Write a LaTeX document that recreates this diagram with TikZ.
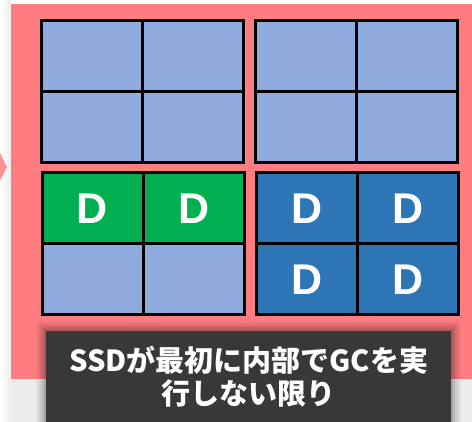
\documentclass[tikz,border=0pt]{standalone}
\usepackage{fontspec}
\setmainfont{Liberation Sans}
\newfontfamily\cjk{Noto Sans CJK JP}
\usetikzlibrary{calc}
\definecolor{pinkbg}{HTML}{FF7C80}
\definecolor{lightblk}{HTML}{8FAADC}
\definecolor{greenblk}{HTML}{00B050}
\definecolor{blueblk}{HTML}{2E75B6}
\definecolor{darkbox}{HTML}{3A3836}
\definecolor{pagebg}{HTML}{ECECEC}
\tikzset{
  cell/.style={draw=black, line width=3pt, minimum width=101pt, minimum height=71pt, inner sep=0pt,
    font=\fontsize{43}{43}\selectfont\bfseries, text=white},
  freecell/.style={cell, fill=lightblk},
  greencell/.style={cell, fill=greenblk},
  bluecell/.style={cell, fill=blueblk},
}
\begin{document}
\begin{tikzpicture}[x=1pt, y=-1pt]
\useasboundingbox (0,0) rectangle (472,422);
% page background
\fill[white] (0,0) rectangle (472,422);
\shade[left color=white, right color=pagebg] (0,0) rectangle (11,422);
\fill[pagebg] (11,379) rectangle (472,422);
% chevron fragment
\fill[pinkbg!85!white] (0,153) -- (7,167) -- (0,181) -- cycle;
% pink panel
\fill[pinkbg] (11,4) rectangle (472,379);
% top-left block
\node[freecell] (a11) at (91.5,56) {};
\node[freecell] (a12) at (192.5,56) {};
\node[freecell] (a21) at (91.5,127) {};
\node[freecell] (a22) at (192.5,127) {};
% top-right block
\node[freecell] (b11) at (306,56) {};
\node[freecell] (b12) at (407,56) {};
\node[freecell] (b21) at (306,127) {};
\node[freecell] (b22) at (407,127) {};
% bottom-left block
\node[greencell] (c11) at (92.5,208.5) {D};
\node[greencell] (c12) at (194,208.5) {D};
\node[freecell] (c21) at (92.5,279.5) {};
\node[freecell] (c22) at (194,279.5) {};
% bottom-right block
\node[bluecell] (d11) at (307,208.5) {D};
\node[bluecell] (d12) at (408,208.5) {D};
\node[bluecell] (d21) at (307,279.5) {D};
\node[bluecell] (d22) at (408,279.5) {D};
% shadow of caption box
\foreach \s/\o in {10/0.04,8/0.05,6/0.06,4/0.08,2/0.1}{
  \fill[black, opacity=\o] (46-\s,331-\s) rectangle (451+\s,422);
}
% caption box
\node[fill=darkbox, minimum width=405pt, minimum height=91pt, inner sep=0pt, anchor=north west,
  text=white, align=center, font=\cjk\bfseries\fontsize{29}{33}\selectfont] (cap) at (46,331)
  {SSDが最初に内部でGCを実\\行しない限り};
\end{tikzpicture}
\end{document}
